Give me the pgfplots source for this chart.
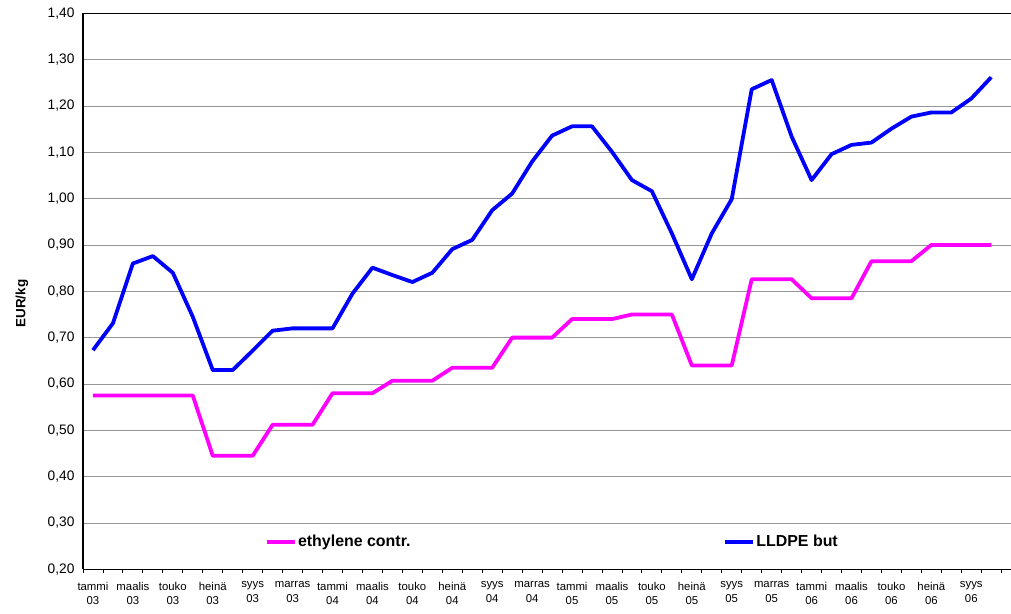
\documentclass[border=0pt]{standalone}
\usepackage{pgfplots}
\pgfplotsset{compat=1.18}
\usepackage{fontspec}
\setmainfont{Liberation Sans}
\definecolor{lblue}{RGB}{0,0,255}
\definecolor{lmag}{RGB}{255,0,255}
\definecolor{gridgray}{RGB}{150,150,150}
\begin{document}
\begin{tikzpicture}
\begin{axis}[
  scale only axis,
  width=928bp, height=556bp,
  xmin=-0.5, xmax=45.99,
  ymin=0.2, ymax=1.4,
  axis x line*=bottom, axis y line*=left,
  axis line style={-, black, line width=1.2bp},
  ytick={0.2,0.3,...,1.41},
  ymajorgrids,
  grid style={gridgray, line width=0.9bp},
  xtick={0,2,...,44},
  xticklabels={{tammi\\03},{maalis\\03},{touko\\03},{heinä\\03},{syys\\03},{marras\\03},
               {tammi\\04},{maalis\\04},{touko\\04},{heinä\\04},{syys\\04},{marras\\04},
               {tammi\\05},{maalis\\05},{touko\\05},{heinä\\05},{syys\\05},{marras\\05},
               {tammi\\06},{maalis\\06},{touko\\06},{heinä\\06},{syys\\06}},
  minor xtick={-0.5,0.5,...,45.6},
  major tick length=0pt,
  minor tick length=4bp,
  tick align=outside,
  tick pos=left,
  minor tick style={black, line width=0.9bp},
  /pgf/number format/.cd, fixed, fixed zerofill, precision=2, use comma, assume math mode=true,
  /pgfplots/.cd,
  yticklabel style={font=\fontsize{13.8}{15}\selectfont, xshift=-5bp},
  xticklabel style={font=\fontsize{11.4}{14.5}\selectfont, align=center, yshift=-9bp},
  ylabel={EUR/kg},
  every axis y label/.style={at={(axis description cs:-0.0657,0.478)}, rotate=90, anchor=center, font=\bfseries\fontsize{13.5}{15}\selectfont},
  legend columns=2,
  legend image code/.code={\draw[#1] (0bp,0bp) -- (28bp,0bp);},
  legend style={at={(axis cs:8.62,0.2595)}, anchor=west, draw=none, fill=none, inner sep=0pt,
    font=\bfseries\fontsize{16}{18}\selectfont,
    nodes={inner xsep=1bp},
    /tikz/every even column/.append style={column sep=312bp}},
]
\addplot[lmag, line width=3.8bp, line join=round] coordinates {
(0,0.575)(1,0.575)(2,0.575)(3,0.575)(4,0.575)(5,0.575)
(6,0.445)(7,0.445)(8,0.445)
(9,0.512)(10,0.512)(11,0.512)
(12,0.580)(13,0.580)(14,0.580)
(15,0.607)(16,0.607)(17,0.607)
(18,0.635)(19,0.635)(20,0.635)
(21,0.700)(22,0.700)(23,0.700)
(24,0.740)(25,0.740)(26,0.740)
(27,0.750)(28,0.750)(29,0.750)
(30,0.640)(31,0.640)(32,0.640)
(33,0.826)(34,0.826)(35,0.826)
(36,0.785)(37,0.785)(38,0.785)
(39,0.865)(40,0.865)(41,0.865)
(42,0.900)(43,0.900)(44,0.900)(45,0.900)
};
\addlegendentry{ethylene contr.}
\addplot[lblue, line width=3.8bp, line join=round] coordinates {
(0,0.673)(1,0.731)(2,0.860)(3,0.876)(4,0.840)(5,0.745)(6,0.630)(7,0.630)
(8,0.672)(9,0.715)(10,0.720)(11,0.720)(12,0.720)(13,0.795)(14,0.851)(15,0.835)
(16,0.820)(17,0.840)(18,0.891)(19,0.911)(20,0.975)(21,1.011)(22,1.080)(23,1.136)
(24,1.156)(25,1.156)(26,1.101)(27,1.040)(28,1.016)(29,0.925)(30,0.826)(31,0.925)
(32,0.999)(33,1.236)(34,1.256)(35,1.134)(36,1.040)(37,1.096)(38,1.116)(39,1.121)
(40,1.151)(41,1.177)(42,1.186)(43,1.186)(44,1.216)(45,1.262)
};
\addlegendentry{LLDPE but}
\draw[black, line width=1.2bp] (rel axis cs:0,1) -- (rel axis cs:1,1);
\end{axis}
\pgfresetboundingbox
\path[use as bounding box] ([shift={(-83bp,-44.7bp)}]current axis.south west) rectangle ([shift={(0bp,13.3bp)}]current axis.north east);
\end{tikzpicture}
\end{document}
